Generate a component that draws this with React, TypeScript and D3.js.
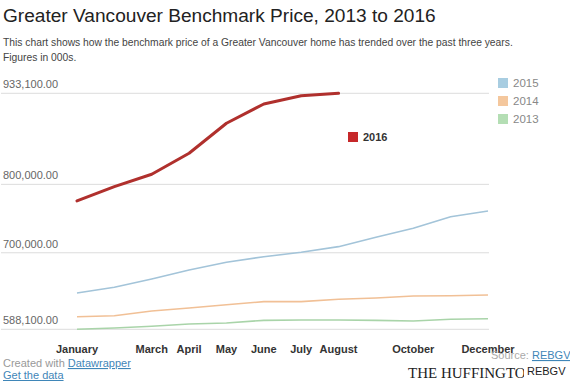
import React from "react";
import * as d3 from "d3";

const months = ["January","February","March","April","May","June","July","August","September","October","November","December"];
const shownMonths = ["January","March","April","May","June","July","August","October","December"];
const y2016 = [775.7, 796.6, 814.7, 845.4, 889.3, 917.5, 929.6, 933.1];
const y2015 = [641.2, 649.5, 661.6, 674.8, 686.1, 694.2, 700.7, 708.9, 722.6, 735.8, 752.7, 761.1];
const y2014 = [606.5, 608.0, 614.9, 619.2, 624.1, 628.5, 628.5, 632.0, 633.9, 636.8, 637.2, 638.2];
const y2013 = [588.1, 590.0, 592.5, 595.8, 597.3, 601.2, 601.7, 601.7, 601.2, 600.2, 602.7, 603.6];
const yTicks = [588.1, 700, 800, 933.1];
const legendYears = ["2015", "2014", "2013"];

const W = 570, H = 381;
const FONT = "'Liberation Sans', Arial, Helvetica, sans-serif";

export default function App() {
  const x = d3.scalePoint<string>().domain(months).range([77, 488]);
  const y = d3.scaleLinear().domain([588.1, 933.1]).range([329.3, 93.3]);
  const line = d3.line<number>().x((_, i) => x(months[i]) as number).y(d => y(d)).curve(d3.curveLinear);
  const fmt = (v: number) => d3.format(",.2f")(v * 1000);

  const series = [
    { name: "2013", data: y2013, color: "#a9d4a9", w: 1.6 },
    { name: "2014", data: y2014, color: "#f1c096", w: 1.6 },
    { name: "2015", data: y2015, color: "#a3c4d9", w: 1.6 },
  ];
  const swatch: Record<string, string> = { "2015": "#a8cde1", "2014": "#f4c79d", "2013": "#b4deb4" };

  return (
    <svg width={W} height={H} style={{ position: "absolute", left: 0, top: 0, background: "#fff" }} fontFamily={FONT}>
      <rect width={W} height={H} fill="#fff" />
      <text x={3} y={22} fontSize={19.1} fill="#222">Greater Vancouver Benchmark Price, 2013 to 2016</text>
      <text x={3} y={46} fontSize={10.3} fill="#444">This chart shows how the benchmark price of a Greater Vancouver home has trended over the past three years.</text>
      <text x={3} y={61} fontSize={10.3} fill="#444">Figures in 000s.</text>

      {yTicks.map(t => (
        <g key={t}>
          <line x1={1} x2={489} y1={y(t)} y2={y(t)} stroke="#dcdcdc" strokeWidth={1} />
          <text x={3} y={y(t) - 5} fontSize={11} fill="#666">{fmt(t)}</text>
        </g>
      ))}

      {series.map(s => (
        <path key={s.name} d={line(s.data) || ""} fill="none" stroke={s.color} strokeWidth={s.w} strokeLinejoin="round" />
      ))}
      <path d={line(y2016) || ""} fill="none" stroke="#b0302d" strokeWidth={3} strokeLinecap="round" strokeLinejoin="round" />

      {shownMonths.map(m => (
        <text key={m} x={x(m)} y={353} fontSize={11} fontWeight="bold" fill="#333" textAnchor="middle">{m}</text>
      ))}

      {legendYears.map((n, i) => (
        <g key={n}>
          <rect x={498} y={78 + i * 18} width={10} height={10} fill={swatch[n]} />
          <text x={513} y={87 + i * 18} fontSize={11.5} fill="#888">{n}</text>
        </g>
      ))}
      <rect x={348} y={132} width={10} height={10} fill="#c6282a" />
      <text x={363} y={141} fontSize={11} fontWeight="bold" fill="#333">2016</text>

      <text x={3} y={367} fontSize={11} fill="#999">Created with <tspan fill="#3f86b8" textDecoration="underline">Datawrapper</tspan></text>
      <text x={3} y={379} fontSize={11} fill="#3f86b8" textDecoration="underline">Get the data</text>
      <text x={491} y={359} fontSize={11} fill="#aaa">Source: <tspan fill="#3f86b8" textDecoration="underline">REBGV.</tspan></text>
      <text x={408} y={378} fontSize={15} fill="#222" fontFamily="'Liberation Serif', 'DejaVu Serif', serif">THE HUFFINGTON POST</text>
      <rect x={524} y={364} width={46} height={17} fill="#fff" />
      <text x={527} y={375} fontSize={11} fill="#222">REBGV</text>
    </svg>
  );
}
